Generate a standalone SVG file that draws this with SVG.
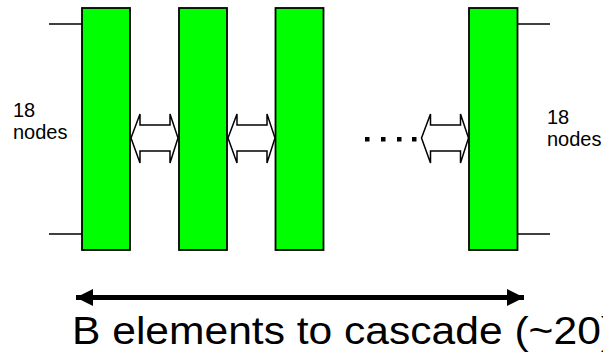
<svg xmlns="http://www.w3.org/2000/svg" width="603" height="352" viewBox="0 0 603 352">
  <style>
    .elem { fill: #00ff00; stroke: #000; stroke-width: 1.8; }
    .pin { stroke: #000; stroke-width: 1.5; fill: none; }
    .link { fill: #fff; stroke: #000; stroke-width: 1.5; stroke-linejoin: miter; }
    .label { font-family: "Liberation Sans", Arial, sans-serif; font-size: 20px; fill: #000; }
    .caption { font-family: "Liberation Sans", Arial, sans-serif; font-size: 38px; fill: #000; }
  </style>
  <defs>
    <!-- hollow double-headed block arrow, 47 wide, centred on y=0 -->
    <path id="dbl" class="link" d="M0,0 L9,-24 L9,-13 L39,-13 L39,-24 L47,0 L39,25 L39,13 L9,13 L9,25 Z"/>
    <marker id="head" viewBox="0 0 10 10" refX="10" refY="5" markerWidth="3.4" markerHeight="3.4" orient="auto-start-reverse" markerUnits="strokeWidth">
      <path d="M0,0 L10,5 L0,10 Z" fill="#000"/>
    </marker>
  </defs>

  <!-- cascaded elements -->
  <g id="element1">
    <rect class="elem" x="82" y="8" width="48" height="242"/>
  </g>
  <g id="element2">
    <rect class="elem" x="179" y="8" width="48" height="242"/>
  </g>
  <g id="element3">
    <rect class="elem" x="275.5" y="8" width="48" height="242"/>
  </g>
  <g id="element4">
    <rect class="elem" x="469" y="8" width="48.5" height="242"/>
  </g>

  <!-- side labels -->
  <g id="label-left">
    <text class="label" x="13" y="117">18</text>
    <text class="label" x="13" y="139">nodes</text>
  </g>
  <g id="label-right">
    <text class="label" x="547" y="124">18</text>
    <text class="label" x="547" y="146">nodes</text>
  </g>

  <g id="connectors">
    <!-- outer pins -->
    <line class="pin" x1="49" y1="24" x2="82" y2="24"/>
    <line class="pin" x1="49" y1="234" x2="82" y2="234"/>
    <line class="pin" x1="517.5" y1="24" x2="550" y2="24"/>
    <line class="pin" x1="517.5" y1="234" x2="550" y2="234"/>

    <!-- links between neighbouring elements -->
    <use href="#dbl" x="131" y="138"/>
    <use href="#dbl" x="228" y="138"/>
    <use href="#dbl" x="421.5" y="138"/>

    <!-- ellipsis for omitted elements -->
    <g fill="#000">
      <rect x="365" y="137" width="4.5" height="4.5"/>
      <rect x="381" y="137" width="4.5" height="4.5"/>
      <rect x="397" y="137" width="4.5" height="4.5"/>
      <rect x="412" y="137" width="4.5" height="4.5"/>
    </g>

    <!-- span of the cascade -->
    <line x1="76" y1="297.5" x2="524" y2="297.5" stroke="#000" stroke-width="5" marker-start="url(#head)" marker-end="url(#head)"/>
  </g>

  <g id="caption">
    <text class="caption" x="72" y="344" textLength="543" lengthAdjust="spacingAndGlyphs">B elements to cascade (~20)</text>
  </g>
</svg>
